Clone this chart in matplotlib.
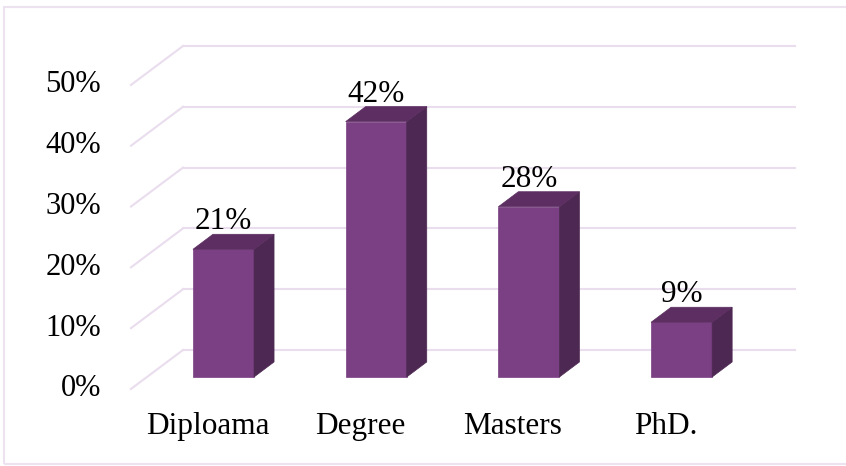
import numpy as np
import matplotlib.pyplot as plt
from matplotlib.patches import Polygon, Rectangle

categories = ['Diploama', 'Degree', 'Masters', 'PhD.']
values = [21, 42, 28, 9]
value_labels = ['21%', '42%', '28%', '9%']
ticks = [0, 10, 20, 30, 40, 50]
tick_labels = ['0%', '10%', '20%', '30%', '40%', '50%']

# colours
front_c = '#7B4083'
side_c = '#4D2852'
top_c = '#5C2E61'
grid_c = '#E9DDEE'

# fake 3d geometry (data units: x = category, y = percent)
bar_w = 0.40
bar_dx, bar_dy = 0.131, 2.47        # depth of a bar
back_dx, back_dy = 0.21, 4.44       # bar plane -> back wall
front_dx, front_dy = -0.131, -1.97  # bar plane -> front edge
wall_left = -0.265
wall_right = 3.74

plt.rcParams['font.family'] = ['Liberation Serif', 'DejaVu Serif']

fig = plt.figure(figsize=(8.46, 4.66), dpi=100)
ax = fig.add_axes([0, 0, 1, 1])
ax.set_xlim(-1.4637, 4.0766)
ax.set_ylim(-14.64, 62.0)
ax.axis('off')

# outer frame
fig.patches.append(Rectangle((4 / 846, 2 / 466), 1.2, 457 / 466, transform=fig.transFigure,
                             fill=False, edgecolor='#EDE3F0', linewidth=1.5))

# gridlines: back wall + left floor diagonal
left_front = wall_left - (back_dx - front_dx)
for t, lab in zip(ticks, tick_labels):
    yb = t + back_dy
    yf = t + front_dy
    ax.plot([wall_left, wall_right], [yb, yb], color=grid_c, lw=1.5, zorder=1)
    ax.plot([left_front, wall_left], [yf, yb], color=grid_c, lw=1.5, zorder=1)
    ax.text(-0.802, yf, lab, ha='right', va='center', fontsize=22, color='black')

# bars
for i, v in enumerate(values):
    x0 = i - bar_w / 2
    x1 = i + bar_w / 2
    front = Polygon([(x0, 0), (x1, 0), (x1, v), (x0, v)], closed=True,
                    facecolor=front_c, edgecolor=front_c, lw=0.5, zorder=3)
    side = Polygon([(x1, 0), (x1 + bar_dx, bar_dy), (x1 + bar_dx, v + bar_dy), (x1, v)],
                   closed=True, facecolor=side_c, edgecolor=side_c, lw=0.5, zorder=3)
    top = Polygon([(x0, v), (x1, v), (x1 + bar_dx, v + bar_dy), (x0 + bar_dx, v + bar_dy)],
                  closed=True, facecolor=top_c, edgecolor=top_c, lw=0.5, zorder=3)
    ax.add_patch(front)
    ax.add_patch(side)
    ax.add_patch(top)
    ax.text(i, v + 3.3, value_labels[i], ha='center', va='baseline', fontsize=22.5, zorder=4)
    ax.text(i - 0.105, -8.2, categories[i], ha='center', va='center', fontsize=22.5)

fig.savefig('out.png', dpi=100)
